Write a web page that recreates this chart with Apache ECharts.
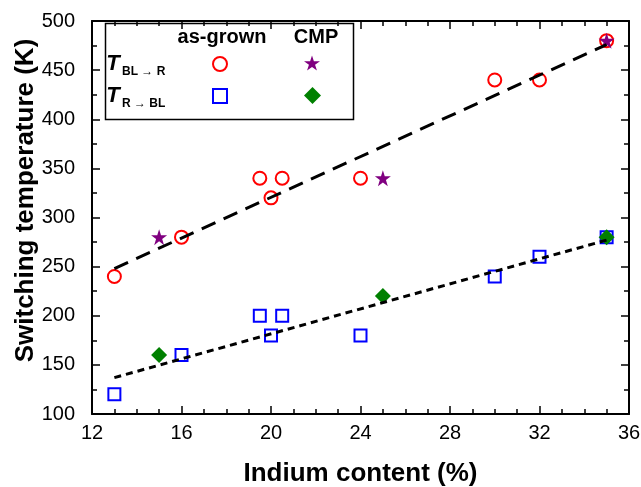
<!DOCTYPE html>
<html>
<head>
<meta charset="utf-8">
<script src="https://cdn.jsdelivr.net/npm/echarts@6/dist/echarts.min.js"></script>
<style>
  html, body { margin: 0; padding: 0; background: #fff; }
  #chart-container { width: 641px; height: 487px; }
</style>
</head>
<body>
<div id="chart-container"></div>
<script>
// indium content (%) and switching temperatures (K)
const indiumGrown = [13, 16, 19.5, 20, 20.5, 24, 30, 32, 35];
const tBlToRGrown = [240, 280, 340, 320, 340, 340, 440, 440, 480];
const tRToBlGrown = [120, 160, 200, 180, 200, 180, 240, 260, 280];

const indiumCmp = [15, 25, 35];
const tBlToRCmp = [280, 340, 480];
const tRToBlCmp = [160, 220, 280];

// linear fit end points
const fitX = [13, 35];
const fitBlToR = [248, 476];
const fitRToBl = [137, 277];

const xTicks = [12, 16, 20, 24, 28, 32, 36];
const yTicks = [100, 150, 200, 250, 300, 350, 400, 450, 500];

const starPath = 'path://M50 0 L61.23 34.55 L97.55 34.55 L68.17 55.9 L79.39 90.45 L50 69.1 L20.61 90.45 L31.83 55.9 L2.45 34.55 L38.77 34.55 Z';
const font = 'Liberation Sans, Arial, sans-serif';

const pairs = (xs, ys) => xs.map((x, i) => [x, ys[i]]);

var chartDom = document.getElementById('chart-container');
var myChart = echarts.init(chartDom);
var option;

const tickStyle = {
    axisLine: { show: true, onZero: false, lineStyle: { color: '#000', width: 2 } },
    axisTick: { show: true, inside: true, length: 8, lineStyle: { color: '#000', width: 1.5 } },
    minorTick: { show: true, length: 5, lineStyle: { color: '#000', width: 1.5 } },
    splitLine: { show: false }
};

const legendItem = (name, left, top, size) => ({
    data: [name],
    left: left,
    top: top,
    padding: 0,
    itemWidth: size,
    itemHeight: size,
    selectedMode: false,
    formatter: () => '',
    textStyle: { fontSize: 1 }
});

option = {
    animation: false,
    backgroundColor: '#fff',
    grid: { left: 92, right: 12, top: 21, bottom: 73, containLabel: false, outerBoundsMode: 'none' },
    xAxis: [
        {
            type: 'value', min: xTicks[0], max: xTicks[xTicks.length - 1], interval: 4,
            position: 'bottom',
            name: 'Indium content (%)', nameLocation: 'middle', nameGap: 47,
            nameTextStyle: { fontFamily: font, fontWeight: 'bold', fontSize: 26, color: '#000' },
            axisLabel: { fontFamily: font, fontSize: 20, color: '#000', margin: 9 },
            ...tickStyle,
            minorTick: { ...tickStyle.minorTick, splitNumber: 4 }
        },
        {
            type: 'value', min: xTicks[0], max: xTicks[xTicks.length - 1], interval: 4,
            position: 'top',
            axisLabel: { show: false },
            ...tickStyle,
            minorTick: { ...tickStyle.minorTick, splitNumber: 4 }
        }
    ],
    yAxis: [
        {
            type: 'value', min: yTicks[0], max: yTicks[yTicks.length - 1], interval: 50,
            position: 'left',
            name: 'Switching temperature (K)', nameLocation: 'middle', nameGap: 53,
            nameMoveOverlap: false,
            nameTextStyle: { fontFamily: font, fontWeight: 'bold', fontSize: 26, color: '#000', padding: [0, 0, 0, 34] },
            axisLabel: { fontFamily: font, fontSize: 20, color: '#000', margin: 17 },
            ...tickStyle,
            minorTick: { ...tickStyle.minorTick, splitNumber: 2 }
        },
        {
            type: 'value', min: yTicks[0], max: yTicks[yTicks.length - 1], interval: 50,
            position: 'right',
            axisLabel: { show: false },
            ...tickStyle,
            minorTick: { ...tickStyle.minorTick, splitNumber: 2 }
        }
    ],
    legend: [
        legendItem('T BL→R as-grown', 212, 56, 14),
        legendItem('T BL→R CMP', 304, 55, 16),
        legendItem('T R→BL as-grown', 212, 88, 14),
        legendItem('T R→BL CMP', 304, 87, 17)
    ],
    graphic: [
        {
            type: 'rect', left: 103, top: 21, z: 100,
            shape: { width: 248, height: 96 },
            style: { fill: 'none', stroke: '#000', lineWidth: 1.5 }
        },
        {
            type: 'text', x: 222, y: 37, z: 100,
            style: { text: 'as-grown', fontFamily: font, fontWeight: 'bold', fontSize: 20, fill: '#000', align: 'center', verticalAlign: 'middle' }
        },
        {
            type: 'text', x: 316, y: 37, z: 100,
            style: { text: 'CMP', fontFamily: font, fontWeight: 'bold', fontSize: 20, fill: '#000', align: 'center', verticalAlign: 'middle' }
        },
        {
            type: 'text', x: 113, y: 64, z: 100,
            style: { text: 'T', fontFamily: font, fontWeight: 'bold', fontStyle: 'italic', fontSize: 22, fill: '#000', align: 'center', verticalAlign: 'middle' }
        },
        {
            type: 'text', x: 122, y: 72, z: 100,
            style: { text: 'BL → R', fontFamily: font, fontWeight: 'bold', fontSize: 12, fill: '#000', align: 'left', verticalAlign: 'middle' }
        },
        {
            type: 'text', x: 113, y: 96, z: 100,
            style: { text: 'T', fontFamily: font, fontWeight: 'bold', fontStyle: 'italic', fontSize: 22, fill: '#000', align: 'center', verticalAlign: 'middle' }
        },
        {
            type: 'text', x: 122, y: 104, z: 100,
            style: { text: 'R → BL', fontFamily: font, fontWeight: 'bold', fontSize: 12, fill: '#000', align: 'left', verticalAlign: 'middle' }
        }
    ],
    series: [
        {
            name: 'T BL→R as-grown', type: 'scatter', symbol: 'circle', symbolSize: 13, z: 2,
            itemStyle: { color: '#fff', borderColor: '#ff0000', borderWidth: 2, opacity: 1 },
            data: pairs(indiumGrown, tBlToRGrown)
        },
        {
            name: 'T R→BL as-grown', type: 'scatter', symbol: 'rect', symbolSize: 12, z: 2,
            itemStyle: { color: '#fff', borderColor: '#0000ff', borderWidth: 2, opacity: 1 },
            data: pairs(indiumGrown, tRToBlGrown)
        },
        {
            name: 'T BL→R CMP', type: 'scatter', symbol: starPath, symbolSize: 16, z: 3,
            itemStyle: { color: '#800080', opacity: 1 },
            data: pairs(indiumCmp, tBlToRCmp)
        },
        {
            name: 'T R→BL CMP', type: 'scatter', symbol: 'diamond', symbolSize: 16, z: 3,
            itemStyle: { color: '#008000', opacity: 1 },
            data: pairs(indiumCmp, tRToBlCmp)
        },
        {
            name: 'fit BL→R', type: 'line', showSymbol: false, symbol: 'none', z: 4,
            lineStyle: { color: '#000', width: 3, type: [15, 9] },
            data: pairs(fitX, fitBlToR)
        },
        {
            name: 'fit R→BL', type: 'line', showSymbol: false, symbol: 'none', z: 4,
            lineStyle: { color: '#000', width: 3, type: [7, 5] },
            data: pairs(fitX, fitRToBl)
        }
    ]
};

option && myChart.setOption(option);
</script>
</body>
</html>
